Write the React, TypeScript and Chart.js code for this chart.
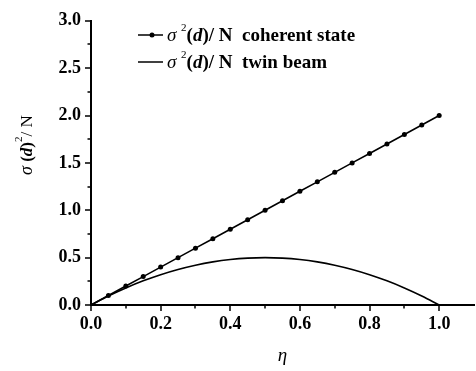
import React, { useEffect, useRef } from "react";
import { Chart, registerables } from "chart.js";

Chart.register(...registerables);

const etaCoherent = [0, 0.05, 0.1, 0.15, 0.2, 0.25, 0.3, 0.35, 0.4, 0.45, 0.5, 0.55, 0.6, 0.65, 0.7, 0.75, 0.8, 0.85, 0.9, 0.95, 1.0];
const coherentValues = [0, 0.1, 0.2, 0.3, 0.4, 0.5, 0.6, 0.7, 0.8, 0.9, 1.0, 1.1, 1.2, 1.3, 1.4, 1.5, 1.6, 1.7, 1.8, 1.9, 2.0];
const etaTwin = [0, 0.05, 0.1, 0.15, 0.2, 0.25, 0.3, 0.35, 0.4, 0.45, 0.5, 0.55, 0.6, 0.65, 0.7, 0.75, 0.8, 0.85, 0.9, 0.95, 1.0];
const twinValues = [0, 0.095, 0.18, 0.255, 0.32, 0.375, 0.42, 0.455, 0.48, 0.495, 0.5, 0.495, 0.48, 0.455, 0.42, 0.375, 0.32, 0.255, 0.18, 0.095, 0];

const xMajorTicks = [0, 0.2, 0.4, 0.6, 0.8, 1.0];
const xMinorTicks = [0.1, 0.3, 0.5, 0.7, 0.9];
const yMajorTicks = [0, 0.5, 1.0, 1.5, 2.0, 2.5, 3.0];
const yMinorTicks = [0.25, 0.75, 1.25, 1.75, 2.25, 2.75];

const legendNames = ["coherent state", "twin beam"];

const SERIF = "'Liberation Serif', 'DejaVu Serif', serif";

type Seg = { t: string; font: string; dy?: number };

function drawSegs(ctx: CanvasRenderingContext2D, segs: Seg[], x: number, y: number) {
  let cx = x;
  for (const s of segs) {
    ctx.font = s.font;
    ctx.fillText(s.t, cx, y + (s.dy || 0));
    cx += ctx.measureText(s.t).width;
  }
  return cx;
}

const decoPlugin = {
  id: "deco",
  afterDraw(chart: any) {
    const ctx: CanvasRenderingContext2D = chart.ctx;
    const xs = chart.scales.x;
    const ys = chart.scales.y;
    const ca = chart.chartArea;
    ctx.save();
    ctx.strokeStyle = "#000";
    ctx.lineWidth = 1.5;
    ctx.beginPath();
    for (const v of xMajorTicks) {
      const px = Math.round(xs.getPixelForValue(v));
      ctx.moveTo(px, ca.bottom);
      ctx.lineTo(px, ca.bottom + 6);
    }
    for (const v of xMinorTicks) {
      const px = Math.round(xs.getPixelForValue(v));
      ctx.moveTo(px, ca.bottom);
      ctx.lineTo(px, ca.bottom + 3.5);
    }
    for (const v of yMajorTicks) {
      const py = Math.round(ys.getPixelForValue(v));
      ctx.moveTo(ca.left, py);
      ctx.lineTo(ca.left - 6, py);
    }
    for (const v of yMinorTicks) {
      const py = Math.round(ys.getPixelForValue(v));
      ctx.moveTo(ca.left, py);
      ctx.lineTo(ca.left - 3.5, py);
    }
    ctx.stroke();

    // y-axis title
    ctx.fillStyle = "#000";
    ctx.textBaseline = "alphabetic";
    ctx.save();
    ctx.translate(32, 175);
    ctx.rotate(-Math.PI / 2);
    drawSegs(ctx, [
      { t: "σ", font: `italic 18px ${SERIF}` },
      { t: " (", font: `bold 17px ${SERIF}` },
      { t: "d", font: `italic bold 17px ${SERIF}` },
      { t: ")", font: `bold 17px ${SERIF}` },
      { t: "2", font: `11px ${SERIF}`, dy: -10 },
      { t: "/ N", font: `17px ${SERIF}` },
    ], 0, 0);
    ctx.restore();

    // legend
    const rows = [35, 62];
    for (let i = 0; i < 2; i++) {
      const y = rows[i];
      ctx.beginPath();
      ctx.lineWidth = 1.5;
      ctx.moveTo(138, y);
      ctx.lineTo(163, y);
      ctx.stroke();
      if (i === 0) {
        ctx.beginPath();
        ctx.arc(152, y, 2.5, 0, Math.PI * 2);
        ctx.fill();
      }
      drawSegs(ctx, [
        { t: "σ ", font: `italic 19px ${SERIF}` },
        { t: "2", font: `11px ${SERIF}`, dy: -10 },
        { t: "(", font: `bold 19px ${SERIF}` },
        { t: "d", font: `italic bold 19px ${SERIF}` },
        { t: ")/ N  " + legendNames[i], font: `bold 19px ${SERIF}` },
      ], 167, y + 6);
    }
    ctx.restore();
  },
};

export default function App() {
  const ref = useRef<HTMLCanvasElement>(null);
  useEffect(() => {
    if (!ref.current) return;
    const chart = new Chart(ref.current, {
      type: "line",
      data: {
        datasets: [
          {
            label: legendNames[0],
            data: etaCoherent.map((x, i) => ({ x, y: coherentValues[i] })),
            borderColor: "#000",
            backgroundColor: "#000",
            borderWidth: 1.6,
            pointRadius: etaCoherent.map((x) => (x === 0 ? 0 : 2.5)),
            pointBorderWidth: 0,
            tension: 0,
          },
          {
            label: legendNames[1],
            data: etaTwin.map((x, i) => ({ x, y: twinValues[i] })),
            borderColor: "#000",
            borderWidth: 1.6,
            pointRadius: 0,
            cubicInterpolationMode: "monotone",
          },
        ],
      },
      options: {
        responsive: false,
        animation: false,
        events: [],
        layout: { padding: { top: 12, left: 0, right: 0, bottom: 0 } },
        plugins: { legend: { display: false }, tooltip: { enabled: false } },
        scales: {
          x: {
            type: "linear",
            min: 0,
            max: 1.1,
            afterBuildTicks: (s: any) => {
              s.ticks = xMajorTicks.map((v) => ({ value: v }));
            },
            afterFit: (s: any) => {
              s.height = 66;
            },
            grid: { display: false, drawTicks: false },
            border: { display: true, color: "#000", width: 2 },
            ticks: {
              color: "#000",
              padding: 9,
              maxRotation: 0,
              font: { family: SERIF, size: 18, weight: "bold" },
              callback: (v: any) => Number(v).toFixed(1),
            },
            title: {
              display: true,
              text: "η",
              color: "#000",
              padding: { top: 8 },
              font: { family: SERIF, size: 19, style: "italic" },
            },
          },
          y: {
            type: "linear",
            min: 0,
            max: 3.0,
            afterBuildTicks: (s: any) => {
              s.ticks = yMajorTicks.map((v) => ({ value: v }));
            },
            afterFit: (s: any) => {
              s.width = 91;
            },
            grid: { display: false, drawTicks: false },
            border: { display: true, color: "#000", width: 2 },
            ticks: {
              color: "#000",
              padding: 10,
              font: { family: SERIF, size: 18, weight: "bold" },
              callback: (v: any) => Number(v).toFixed(1),
            },
          },
        },
      },
      plugins: [decoPlugin],
    } as any);
    return () => chart.destroy();
  }, []);
  return (
    <div style={{ position: "absolute", left: 0, top: 0, width: 478, height: 371 }}>
      <canvas ref={ref} width={478} height={371} />
    </div>
  );
}
